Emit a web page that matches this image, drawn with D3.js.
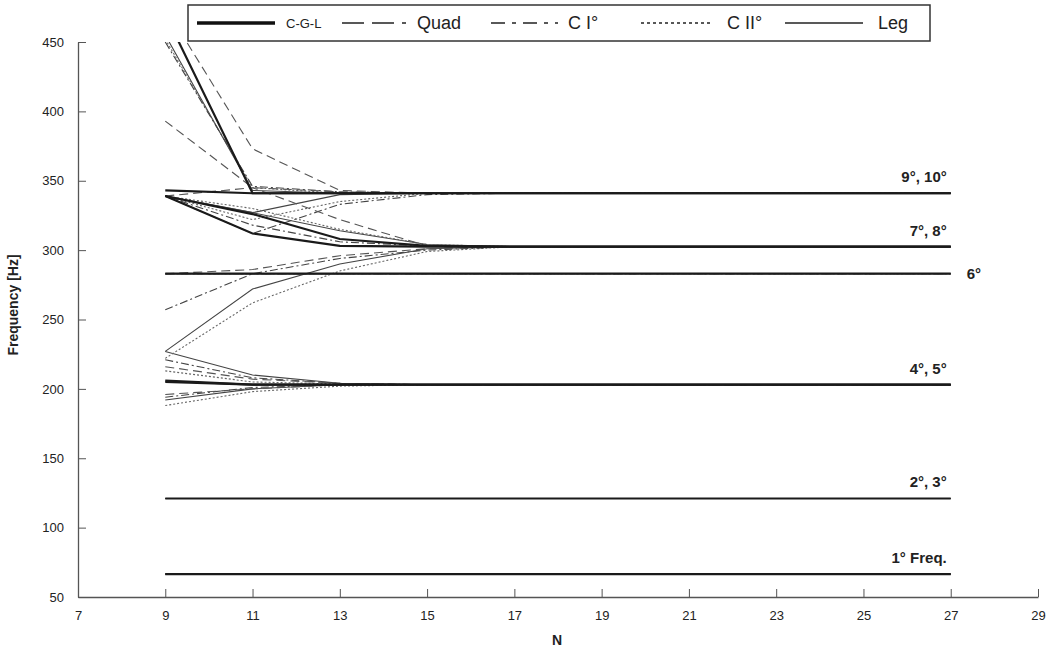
<!DOCTYPE html>
<html>
<head>
<meta charset="utf-8">
<script src="https://d3js.org/d3.v7.min.js"></script>
<style>
body { margin:0; background:#fff; }
text { font-family: "Liberation Sans", Arial, sans-serif; }
</style>
</head>
<body>
<svg width="1058" height="653"></svg>
<script>
// N values where each mode is sampled (flat after 17 up to 27)
var nVals = [9, 11, 13, 15, 17, 27];
var methods = ["Leg", "C II°", "C I°", "Quad", "C-G-L"];

// frequencies in Hz, one row per mode (1..10)
var leg = [
  [66.5, 66.5, 66.5, 66.5, 66.5, 66.5],
  [121, 121, 121, 121, 121, 121],
  [227, 210, 204, 203, 203, 203],
  [192, 200, 203, 203, 203, 203],
  [283, 283, 283, 283, 283, 283],
  [227, 272, 290, 301, 302.5, 302.5],
  [339, 327, 314, 304, 302.5, 302.5],
  [339, 327, 340, 341, 341, 341],
  [455, 343, 341, 341, 341, 341]
];
var cii = [
  [66.5, 66.5, 66.5, 66.5, 66.5, 66.5],
  [121, 121, 121, 121, 121, 121],
  [213, 205, 203.5, 203, 203, 203],
  [188, 198, 202, 203, 203, 203],
  [283, 283, 283, 283, 283, 283],
  [222, 262, 285, 299, 302.5, 302.5],
  [339, 330, 315, 304, 302.5, 302.5],
  [339, 322, 335, 341, 341, 341],
  [452, 345, 341, 341, 341, 341]
];
var ci = [
  [66.5, 66.5, 66.5, 66.5, 66.5, 66.5],
  [121, 121, 121, 121, 121, 121],
  [221, 208, 204, 203, 203, 203],
  [194, 201, 203, 203, 203, 203],
  [283, 283, 283, 283, 283, 283],
  [257, 283, 294, 300, 302.5, 302.5],
  [339, 318, 306, 303, 302.5, 302.5],
  [339, 312, 333, 340, 341, 341],
  [450, 346, 342, 341, 341, 341]
];
var quad = [
  [66.5, 66.5, 66.5, 66.5, 66.5, 66.5],
  [121, 121, 121, 121, 121, 121],
  [216, 207, 204, 203, 203, 203],
  [196, 200, 203, 203, 203, 203],
  [283, 283, 283, 283, 283, 283],
  [283, 286, 296, 301, 302.5, 302.5],
  [339, 345, 322, 303, 302.5, 302.5],
  [393, 345, 342, 341, 341, 341],
  [475, 373, 343, 341, 341, 341]
];
var cgl = [
  [66.5, 66.5, 66.5, 66.5, 66.5, 66.5],
  [121, 121, 121, 121, 121, 121],
  [206, 203, 203, 203, 203, 203],
  [205, 203, 203, 203, 203, 203],
  [283, 283, 283, 283, 283, 283],
  [339, 312, 303, 302.5, 302.5, 302.5],
  [339, 326, 308, 303, 302.5, 302.5],
  [343, 341, 341, 341, 341, 341],
  [470, 341, 341, 341, 341, 341]
];
var modeLabels = ["1° Freq.", "2°, 3°", "4°, 5°", "6°", "7°, 8°", "9°, 10°"];
var labelHz = [66.5, 121, 203, 283, 302.5, 341];
var xTicks = [7, 9, 11, 13, 15, 17, 19, 21, 23, 25, 27, 29];
var yTicks = [50, 100, 150, 200, 250, 300, 350, 400, 450];

var dataBy = {"Leg": leg, "C II°": cii, "C I°": ci, "Quad": quad, "C-G-L": cgl};
var style = {
  "C-G-L": {w: 2.2, dash: null, c: "#1a1a1a"},
  "Quad": {w: 1.1, dash: "9,5", c: "#555"},
  "C I°": {w: 1.1, dash: "8,3,2,3", c: "#444"},
  "C II°": {w: 1.1, dash: "2,2", c: "#666"},
  "Leg": {w: 1.1, dash: null, c: "#444"}
};

var svg = d3.select("svg");
var x = d3.scaleLinear().domain([7, 29]).range([78, 1038]);
var y = d3.scaleLinear().domain([50, 450]).range([597, 42]);

svg.append("clipPath").attr("id", "clip").append("rect")
  .attr("x", 78).attr("y", 42).attr("width", 960).attr("height", 555);

var line = d3.line().x(function(d, i) { return x(nVals[i]); }).y(function(d) { return y(d); });

var g = svg.append("g").attr("clip-path", "url(#clip)");
methods.forEach(function(m) {
  var s = style[m];
  g.selectAll(null).data(dataBy[m]).enter().append("path")
    .attr("d", line)
    .attr("fill", "none")
    .attr("stroke", s.c)
    .attr("stroke-width", s.w)
    .attr("stroke-dasharray", s.dash);
});

// axes
var xaxis = d3.axisBottom(x).tickValues(xTicks).tickSizeInner(-8).tickSizeOuter(0).tickPadding(14);
var yaxis = d3.axisLeft(y).tickValues(yTicks).tickSizeInner(-8).tickSizeOuter(0).tickPadding(14);
var gx = svg.append("g").attr("transform", "translate(0,597)").call(xaxis);
var gy = svg.append("g").attr("transform", "translate(78,0)").call(yaxis);
[gx, gy].forEach(function(a) {
  a.select(".domain").attr("stroke", "#555").attr("stroke-width", 1.3);
  a.selectAll(".tick line").attr("stroke", "#555");
  a.selectAll(".tick text").style("font-size", "13px").attr("fill", "#222")
    .style("font-family", "'Liberation Sans', Arial, sans-serif");
});

svg.append("text").text("Frequency [Hz]")
  .attr("transform", "translate(18,305) rotate(-90)")
  .attr("text-anchor", "middle")
  .style("font-size", "14px").style("font-weight", "bold").attr("fill", "#222");
svg.append("text").text("N")
  .attr("x", 557).attr("y", 645).attr("text-anchor", "middle")
  .style("font-size", "14px").style("font-weight", "bold").attr("fill", "#222");

// mode labels
modeLabels.forEach(function(t, i) {
  var lab = svg.append("text").text(t)
    .style("font-size", "15px").style("font-weight", "bold").attr("fill", "#222");
  if (t == "6°") {
    lab.attr("x", x(27) + 16).attr("y", y(labelHz[i]) + 5);
  } else {
    lab.attr("x", x(27) - 4).attr("y", y(labelHz[i]) - 11).attr("text-anchor", "end");
  }
});

// legend
var lg = svg.append("g");
lg.append("rect").attr("x", 188).attr("y", 5).attr("width", 742).attr("height", 36)
  .attr("fill", "#fff").attr("stroke", "#333").attr("stroke-width", 1.5);
var legItems = [
  {m: "C-G-L", x1: 197, x2: 275, tx: 286, fs: 13},
  {m: "Quad", x1: 342, x2: 406, tx: 417, fs: 18},
  {m: "C I°", x1: 491, x2: 558, tx: 568, fs: 18},
  {m: "C II°", x1: 641, x2: 712, tx: 727, fs: 18},
  {m: "Leg", x1: 785, x2: 863, tx: 878, fs: 18}
];
legItems.forEach(function(it) {
  var dash = it.m == "Quad" ? "22,8" : it.m == "C I°" ? "14,7,4,7" : it.m == "C II°" ? "3,3" : null;
  lg.append("line").attr("x1", it.x1).attr("x2", it.x2).attr("y1", 23).attr("y2", 23)
    .attr("stroke", it.m == "C-G-L" ? "#111" : "#222").attr("stroke-width", it.m == "C-G-L" ? 3.5 : 1.3)
    .attr("stroke-dasharray", dash);
  lg.append("text").text(it.m).attr("x", it.tx).attr("y", 23).attr("dy", "0.35em")
    .style("font-size", it.fs + "px").attr("fill", "#222");
});
</script>
</body>
</html>
